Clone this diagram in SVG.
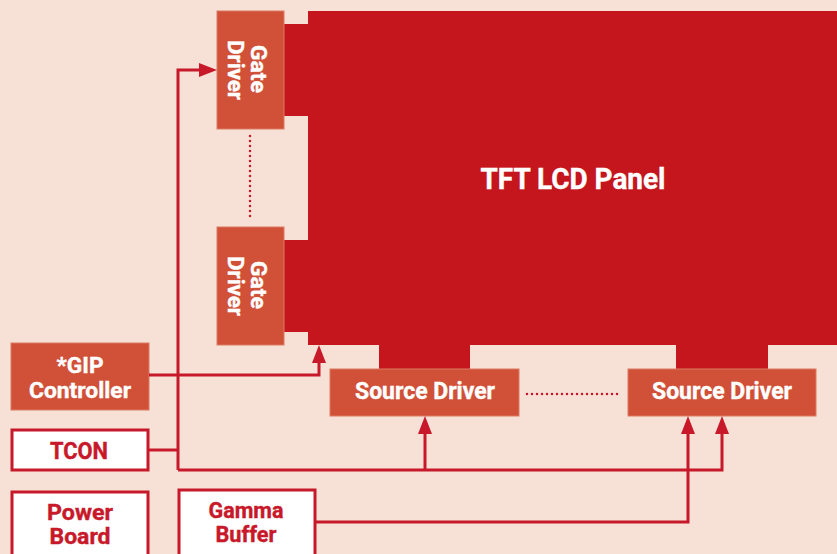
<svg xmlns="http://www.w3.org/2000/svg" width="837" height="554" viewBox="0 0 837 554">
<style>
.bg{fill:#F7E1D7}
.panel{fill:#C4161C}
.orange{fill:#D15038;stroke:#DC7A62;stroke-width:1}
.white{fill:#FFFFFF;stroke:#C8192A;stroke-width:3}
.tw{fill:#FFFFFF;stroke:#FFFFFF;stroke-width:0.4;font-family:Roboto,"Liberation Sans",sans-serif;font-weight:bold;text-anchor:middle}
.tr{fill:#C8192A;stroke:#C8192A;stroke-width:0.4;font-family:Roboto,"Liberation Sans",sans-serif;font-weight:bold;text-anchor:middle}
.wire{fill:none;stroke:#C8192A;stroke-width:3}
.dots{fill:none;stroke:#C8192A;stroke-width:2.5;stroke-linecap:round;stroke-dasharray:0 5}
</style>
<defs>
<marker id="ah" markerUnits="userSpaceOnUse" markerWidth="18" markerHeight="14" refX="0" refY="7" orient="auto" viewBox="0 0 18 14">
<path d="M0,0 L18,7 L0,14 z" fill="#C8192A"/>
</marker>
</defs>
<rect class="bg" x="0" y="0" width="837" height="554"/>

<g id="panel">
<rect class="panel" x="308" y="11" width="529" height="334"/>
<rect class="panel" x="284" y="24" width="26" height="92"/>
<rect class="panel" x="284" y="240" width="26" height="92"/>
<rect class="panel" x="379" y="343" width="91" height="27"/>
<rect class="panel" x="676" y="343" width="92" height="27"/>
<text class="tw" x="573" y="189" font-size="30" textLength="185" lengthAdjust="spacingAndGlyphs">TFT LCD Panel</text>
</g>

<g id="gate-driver-1">
<rect class="orange" x="217" y="11" width="67" height="118"/>
<text class="tw" font-size="22" transform="translate(251,69) rotate(90)" textLength="48" lengthAdjust="spacingAndGlyphs">Gate</text>
<text class="tw" font-size="22" transform="translate(228,70) rotate(90)" textLength="60" lengthAdjust="spacingAndGlyphs">Driver</text>
</g>

<g id="gate-driver-2">
<rect class="orange" x="217" y="227" width="67" height="118"/>
<text class="tw" font-size="22" transform="translate(251,285) rotate(90)" textLength="48" lengthAdjust="spacingAndGlyphs">Gate</text>
<text class="tw" font-size="22" transform="translate(228,286) rotate(90)" textLength="60" lengthAdjust="spacingAndGlyphs">Driver</text>
</g>

<g id="source-driver-1">
<rect class="orange" x="330" y="369" width="189" height="47"/>
<text class="tw" x="425" y="399" font-size="23.5" textLength="140" lengthAdjust="spacingAndGlyphs">Source Driver</text>
</g>

<g id="source-driver-2">
<rect class="orange" x="628" y="369" width="188" height="47"/>
<text class="tw" x="722" y="399" font-size="23.5" textLength="140" lengthAdjust="spacingAndGlyphs">Source Driver</text>
</g>

<g id="gip-controller">
<rect class="orange" x="11" y="343" width="138" height="67"/>
<text class="tw" x="80" y="373" font-size="22.5" textLength="47" lengthAdjust="spacingAndGlyphs">*GIP</text>
<text class="tw" x="80" y="398" font-size="22.5" textLength="102" lengthAdjust="spacingAndGlyphs">Controller</text>
</g>

<g id="tcon">
<rect class="white" x="12" y="430" width="136" height="40"/>
<text class="tr" x="79" y="459" font-size="23.5" textLength="58" lengthAdjust="spacingAndGlyphs">TCON</text>
</g>

<g id="power-board">
<rect class="white" x="12" y="492" width="136" height="70"/>
<text class="tr" x="80" y="520" font-size="22.5" textLength="66" lengthAdjust="spacingAndGlyphs">Power</text>
<text class="tr" x="80" y="544" font-size="22.5" textLength="61" lengthAdjust="spacingAndGlyphs">Board</text>
</g>

<g id="gamma-buffer">
<rect class="white" x="179" y="490" width="136" height="72"/>
<text class="tr" x="246" y="518" font-size="22.5" textLength="75" lengthAdjust="spacingAndGlyphs">Gamma</text>
<text class="tr" x="246" y="542" font-size="22.5" textLength="61" lengthAdjust="spacingAndGlyphs">Buffer</text>
</g>

<g id="connectors">
<path class="wire" d="M148,450 H178"/>
<path class="wire" d="M178,470 V70 H199" marker-end="url(#ah)"/>
<path class="wire" d="M178,470 H722 V434" marker-end="url(#ah)"/>
<path class="wire" d="M425,470 V434" marker-end="url(#ah)"/>
<path class="wire" d="M149,375 H319 V363" marker-end="url(#ah)"/>
<path class="wire" d="M315,522 H688 V434" marker-end="url(#ah)"/>
<path class="dots" d="M250,136 V220"/>
<path class="dots" d="M527,394 H622"/>
</g>
</svg>
